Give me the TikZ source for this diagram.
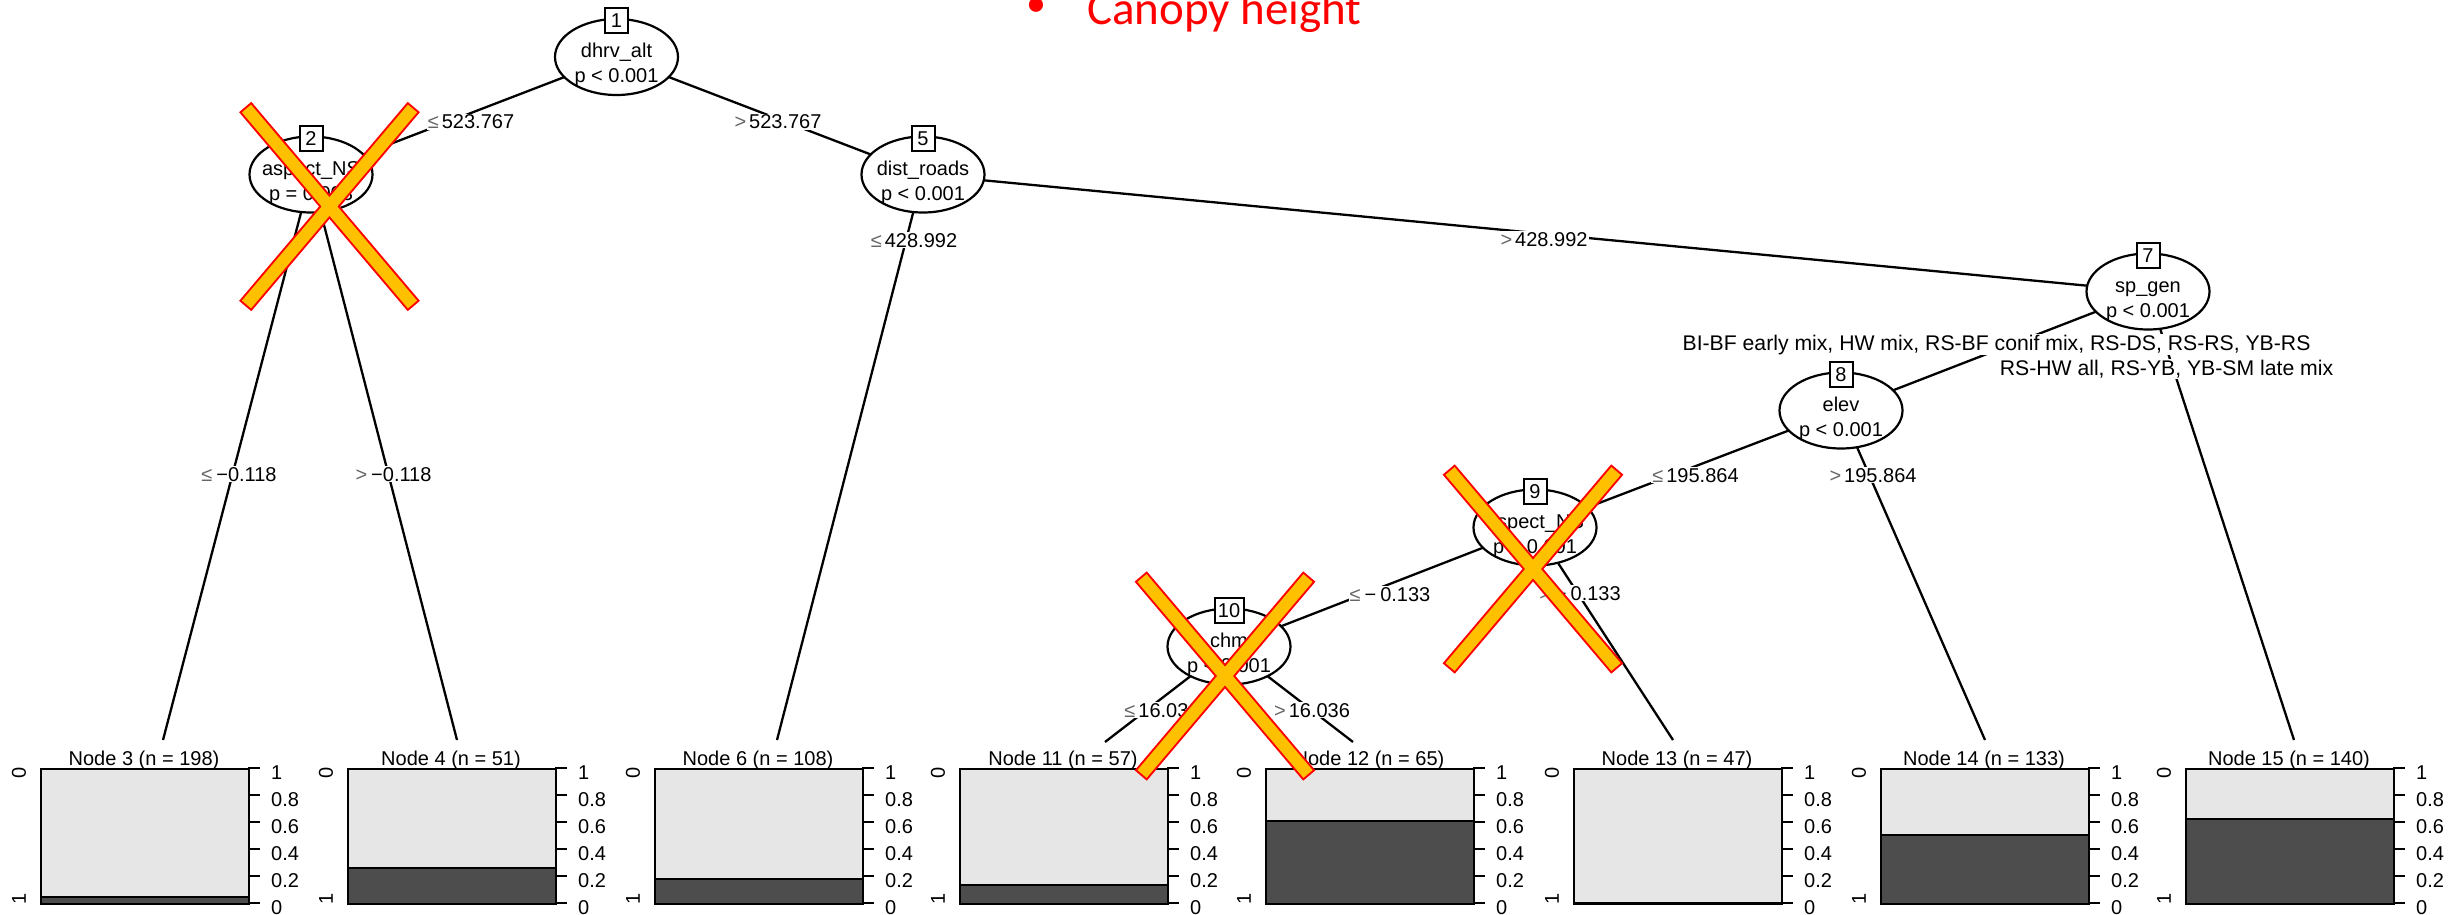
\documentclass[tikz,border=0pt]{standalone}
\usepackage{fontspec}
\setmainfont{Liberation Sans}
\newfontfamily\calib{Carlito}
\usetikzlibrary{shapes.geometric}
\pgfdeclarelayer{bg}
\pgfsetlayers{bg,main}
\definecolor{lightbar}{RGB}{230,230,230}
\definecolor{darkbar}{RGB}{77,77,77}
\definecolor{xorange}{RGB}{255,192,0}
\definecolor{xred}{RGB}{255,0,0}
\newcommand\mysle{{\color{black!60}≤}}
\newcommand\mysgt{{\color{black!60}>}}
\tikzset{
  every node/.style={font=\fontsize{20}{24}\selectfont, inner sep=0pt},
  ell/.style={ellipse, draw, line width=2.2pt, fill=white, minimum width=123pt, minimum height=76pt},
  numbox/.style={rectangle, draw, line width=2pt, fill=white, minimum width=23pt, minimum height=25pt},
  txt/.style={anchor=base},
  elab/.style={anchor=base, fill=white, inner sep=1pt},
  biglab/.style={elab, font=\fontsize{21.2}{25}\selectfont},
  edge/.style={line width=2.3pt},
  pics/xmark/.style={code={
    \draw[xred, line width=4pt] (-78.42,-101.88) -- (87.58,94.12) -- (78.42,101.88) -- (-87.58,-94.12) -- cycle
      (87.58,-94.12) -- (-78.42,101.88) -- (-87.58,94.12) -- (78.42,-101.88) -- cycle;
    \fill[xorange] (-78.42,-101.88) -- (87.58,94.12) -- (78.42,101.88) -- (-87.58,-94.12) -- cycle
      (87.58,-94.12) -- (-78.42,101.88) -- (-87.58,94.12) -- (78.42,-101.88) -- cycle;
  }}
}
\begin{document}
\begin{tikzpicture}[x=1pt,y=-1pt]
\useasboundingbox (0,0) rectangle (2463,915);

% inner nodes
\node[ell] (n1) at (616.5,57) {};
\node[numbox] (b1) at (616.5,21) {1};
\node[txt] (v1) at (616.5,58) {dhrv\_alt};
\node[txt] (p1) at (616.5,83) {p < 0.001};

\node[ell] (n2) at (311,174.5) {};
\node[numbox] (b2) at (311,138.5) {2};
\node[txt] (v2) at (311,175.5) {aspect\_NS};
\node[txt] (p2) at (311,200) {p = 0.003};

\node[ell] (n5) at (923,174.5) {};
\node[numbox] (b5) at (923,138.5) {5};
\node[txt] (v5) at (923,175.5) {dist\_roads};
\node[txt] (p5) at (923,200) {p < 0.001};

\node[ell] (n7) at (2148,291.5) {};
\node[numbox] (b7) at (2148,255.5) {7};
\node[txt] (v7) at (2148,292.5) {sp\_gen};
\node[txt] (p7) at (2148,317) {p < 0.001};

\node[ell] (n8) at (1841,410.5) {};
\node[numbox] (b8) at (1841,374.5) {8};
\node[txt] (v8) at (1841,411.5) {elev};
\node[txt] (p8) at (1841,436) {p < 0.001};

\node[ell] (n9) at (1535,527.5) {};
\node[numbox] (b9) at (1535,491.5) {9};
\node[txt] (v9) at (1535,528.5) {aspect\_NS};
\node[txt] (p9) at (1535,553) {p < 0.001};

\node[ell] (n10) at (1229,646.5) {};
\node[numbox, minimum width=29pt] (b10) at (1229,610.5) {10};
\node[txt] (v10) at (1229,647.5) {chm};
\node[txt] (p10) at (1229,672) {p < 0.001};

% terminal edge ends
\coordinate (e3) at (163,740);
\coordinate (e4) at (457,740);
\coordinate (e6) at (777,740);
\coordinate (e11) at (1105,742);
\coordinate (e12) at (1353,742);
\coordinate (e13) at (1673,740);
\coordinate (e14) at (1985,740);
\coordinate (e15) at (2294,740);

\begin{pgfonlayer}{bg}
\fill[white] (0,0) rectangle (2463,915);
\draw[edge] (n1.center) -- (n2.center);
\draw[edge] (n1.center) -- (n5.center);
\draw[edge] (n2.center) -- (e3);
\draw[edge] (n2.center) -- (e4);
\draw[edge] (n5.center) -- (e6);
\draw[edge] (n5.center) -- (n7.center);
\draw[edge] (n7.center) -- (n8.center);
\draw[edge] (n7.center) -- (e15);
\draw[edge] (n8.center) -- (n9.center);
\draw[edge] (n8.center) -- (e14);
\draw[edge] (n9.center) -- (n10.center);
\draw[edge] (n9.center) -- (e13);
\draw[edge] (n10.center) -- (e11);
\draw[edge] (n10.center) -- (e12);
\end{pgfonlayer}

% edge labels
\node[elab] (l12) at (471,129) {\mysle\hspace{3pt}523.767};
\node[elab] (l15) at (778,129) {\mysgt\hspace{3pt}523.767};
\node[elab] (l23) at (239,481) {\mysle\hspace{4pt}−0.118};
\node[elab] (l24) at (393.5,481) {\mysgt\hspace{4pt}−0.118};
\node[elab] (l56) at (914,247) {\mysle\hspace{3pt}428.992};
\node[elab] (l57) at (1544,246) {\mysgt\hspace{3pt}428.992};
\node[biglab] (l78) at (1996.5,350) {BI-BF early mix, HW mix, RS-BF conif mix, RS-DS, RS-RS, YB-RS};
\node[biglab] (l715) at (2166.5,375) {RS-HW all, RS-YB, YB-SM late mix};
\node[elab] (l89) at (1695.5,482) {\mysle\hspace{3pt}195.864};
\node[elab] (l814) at (1873,482) {\mysgt\hspace{3pt}195.864};
\node[elab] (l910) at (1390,601) {\mysle\hspace{4pt}−\hspace{4pt}0.133};
\node[elab] (l913) at (1580,600) {\mysgt\hspace{4pt}−\hspace{4pt}0.133};
\node[elab] (l1011) at (1162,717) {\mysle\hspace{3pt}16.036};
\node[elab] (l1012) at (1312,717) {\mysgt\hspace{3pt}16.036};

% terminal panels
\foreach \L/\f/\k/\m in {40/0.044/3/198, 347/0.26/4/51, 654/0.178/6/108, 959/0.133/11/57, 1265/0.607/12/65, 1573/0/13/47, 1880/0.504/14/133, 2185/0.622/15/140}{
  \node[anchor=base] (t\k) at (\L+104,765) {Node \k\ (n = \m)};
  \fill[lightbar] (\L,768) rectangle ++(208,135);
  \fill[darkbar] (\L,903) rectangle ++(208,-135*\f);
  \draw[line width=1.5pt] (\L,903-135*\f) -- ++(208,0);
  \node[draw, line width=2pt, minimum width=208pt, minimum height=135pt, anchor=north west] (box\k) at (\L,768) {};
  \foreach \t/\lab in {0/0,1/0.2,2/0.4,3/0.6,4/0.8,5/1}{
    \draw[line width=2.5pt] (\L+208,903-27*\t) -- ++(12,0);
    \node[anchor=base west] (ax\k x\t) at (\L+231,914-27*\t) {\lab};
  }
  \node[rotate=90] (lva\k) at (\L-21,773) {0};
  \node[rotate=90] (lvb\k) at (\L-21,899) {1};
}

% crosses
\pic at (329.5,206.5) {xmark};
\pic at (1533,569) {xmark};
\pic at (1225,676) {xmark};

% annotation
\node[anchor=base, font=\calib\fontsize{40}{48}\selectfont, text=xred] (bullet) at (1036,17) {•};
\node[anchor=base west, font=\calib\fontsize{47}{56}\selectfont, text=xred] (canopy) at (1087,25) {Canopy height};
\end{tikzpicture}
\end{document}
